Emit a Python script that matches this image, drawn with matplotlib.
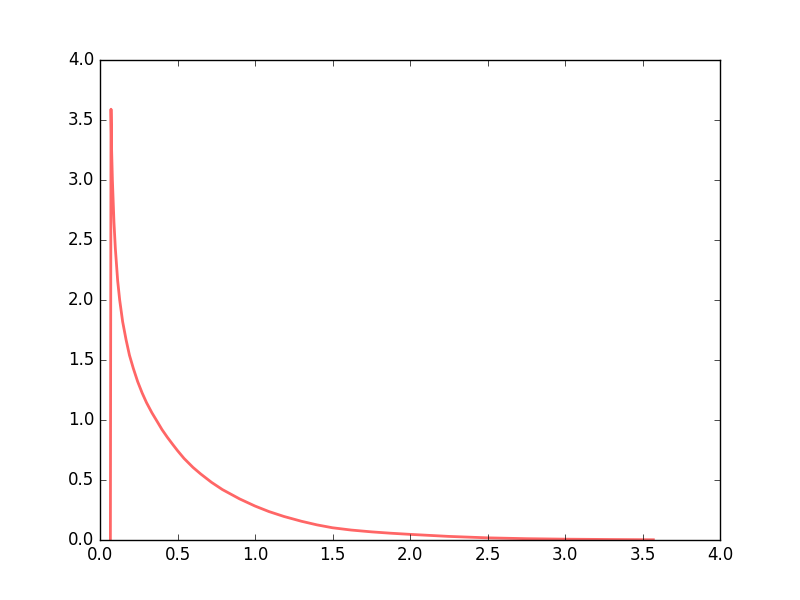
import matplotlib
matplotlib.use("Agg")
import matplotlib.pyplot as plt

plt.style.use("classic")

# values
x_vals = [0.067, 0.071, 0.075, 0.080, 0.090, 0.099, 0.114, 0.127, 0.146, 0.168,
          0.190, 0.215, 0.243, 0.272, 0.30, 0.335, 0.37, 0.40, 0.435, 0.47,
          0.50, 0.542, 0.60, 0.65, 0.72, 0.79, 0.90, 1.00, 1.09, 1.187,
          1.30, 1.40, 1.50, 1.62, 1.75, 1.87, 2.00, 2.25, 2.50, 2.75,
          3.00, 3.30, 3.57]
y_vals = [0.0, 3.59, 3.25, 3.0, 2.65, 2.43, 2.16, 2.0, 1.82, 1.67,
          1.54, 1.43, 1.32, 1.225, 1.145, 1.06, 0.985, 0.92, 0.855, 0.795,
          0.745, 0.68, 0.605, 0.55, 0.48, 0.42, 0.343, 0.283, 0.237, 0.196,
          0.156, 0.126, 0.102, 0.083, 0.068, 0.057, 0.047, 0.030, 0.018, 0.011,
          0.007, 0.004, 0.002]

fig, ax = plt.subplots(figsize=(8, 6), dpi=100)
ax.plot(x_vals, y_vals, color="r", linewidth=2, alpha=0.6)
ax.set_xlim(0, 4)
ax.set_ylim(0, 4)
fig.savefig("out.png", dpi=100)
